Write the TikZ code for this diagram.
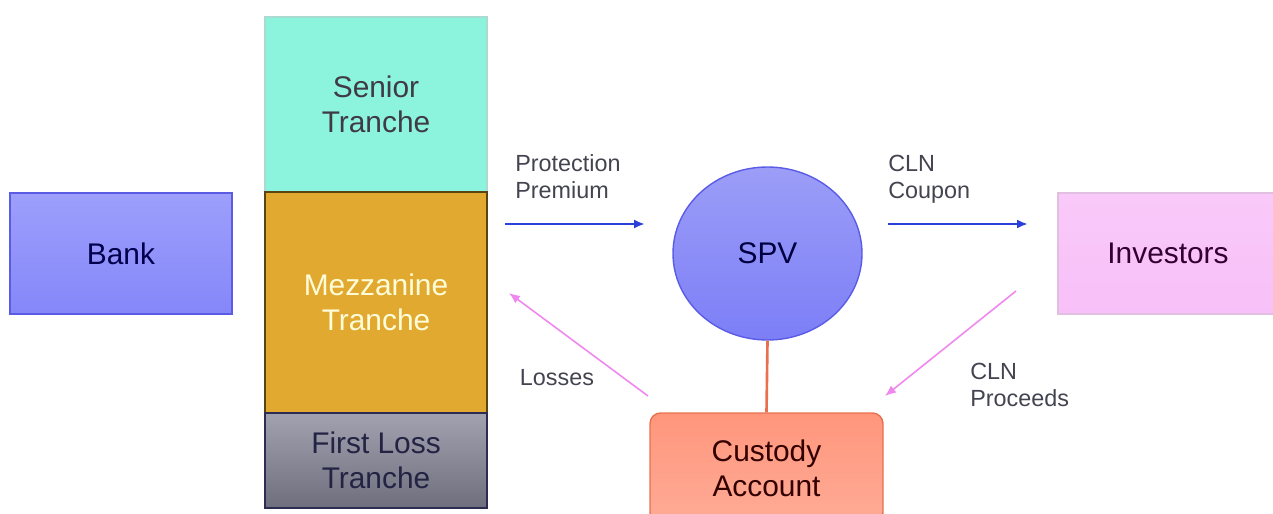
\documentclass[tikz,border=0pt]{standalone}
\usepackage{fontspec}
\setmainfont{Liberation Sans}
\usetikzlibrary{shapes.geometric,arrows.meta}

\definecolor{bankfill}{HTML}{8C8EFA}
\definecolor{bankline}{HTML}{5A5CE6}
\definecolor{seniorfill}{HTML}{8CF3DC}
\definecolor{mezzfill}{HTML}{E2A930}
\definecolor{mezzline}{HTML}{5C4312}
\definecolor{lossfill}{HTML}{8A8A9C}
\definecolor{lossline}{HTML}{2C2C55}
\definecolor{spvfill}{HTML}{8A8CF6}
\definecolor{custfill}{HTML}{FF967C}
\definecolor{custline}{HTML}{E8704E}
\definecolor{invfill}{HTML}{F8C0F8}
\definecolor{flowblue}{HTML}{2A40D8}
\definecolor{flowpink}{HTML}{EE88EE}
\definecolor{labelgray}{HTML}{444450}

\begin{document}
\begin{tikzpicture}[
    party/.style={draw, line width=0.8pt, font=\fontsize{17}{20}\selectfont, align=center, inner sep=0pt},
    tranche/.style={party, minimum width=4.44cm},
    flow/.style={-{Latex[length=2.2mm,width=1.8mm]}, line width=1.4pt, flowblue},
    back/.style={-{Latex[length=2.2mm,width=1.8mm]}, line width=0.9pt, flowpink},
    flowlabel/.style={font=\fontsize{13.3}{15.4}\selectfont, text=labelgray, align=left, inner sep=0pt}
]
\useasboundingbox (0,0) rectangle (25.46,-10.28);

\node[party, minimum width=4.44cm, minimum height=2.42cm, top color=bankfill!85!white, bottom color=bankfill!95!blue, draw=bankline, text=blue!30!black] (bank) at (2.42,-5.07) {Bank};
\node[tranche, minimum height=3.5cm, fill=seniorfill, draw=seniorfill!80!black!60, text=cyan!15!blue!20!black] (senior) at (7.52,-2.09) {Senior\\Tranche};
\node[tranche, minimum height=4.42cm, fill=mezzfill, draw=mezzline, text=yellow!15!white] (mezz) at (7.52,-6.05) {Mezzanine\\Tranche};
\node[tranche, minimum height=1.9cm, top color=lossfill!80!white, bottom color=lossfill!80!black, draw=lossline, text=lossline!80!black] (loss) at (7.52,-9.21) {First Loss\\Tranche};
\node[party, ellipse, minimum width=3.78cm, minimum height=3.46cm, top color=spvfill!85!white, bottom color=spvfill!90!blue, draw=bankline, text=blue!25!black] (spv) at (15.35,-5.07) {SPV};
\node[party, rounded corners=6pt, minimum width=4.66cm, minimum height=2.2cm, top color=custfill, bottom color=custfill!80!white, draw=custline, text=red!20!black] (cust) at (15.33,-9.36) {Custody\\Account};
\node[party, minimum width=4.4cm, minimum height=2.42cm, top color=invfill!85!white, bottom color=invfill, draw=invfill!85!black!70, text=violet!40!black] (inv) at (23.36,-5.07) {Investors};

\coordinate (pp1) at (10.10,-4.48);
\coordinate (pp2) at (12.90,-4.48);
\coordinate (cc1) at (17.76,-4.48);
\coordinate (cc2) at (20.56,-4.48);
\coordinate (ls1) at (12.96,-7.92);
\coordinate (ls2) at (10.18,-5.86);
\coordinate (cp1) at (20.32,-5.82);
\coordinate (cp2) at (17.70,-7.92);

\draw[flow] (pp1) -- (pp2);
\draw[flow] (cc1) -- (cc2);
\draw[back] (ls1) -- (ls2);
\draw[back] (cp1) -- (cp2);
\draw[line width=1.5pt, custline] (spv.south) -- (cust.north);

\node[flowlabel, anchor=west] (pplabel) at (10.30,-3.53) {Protection\\Premium};
\node[flowlabel, anchor=west] (cclabel) at (17.76,-3.59) {CLN\\Coupon};
\node[flowlabel] (lslabel) at (11.14,-7.56) {Losses};
\node[flowlabel, anchor=west] (cplabel) at (19.40,-7.70) {CLN\\Proceeds};
\end{tikzpicture}
\end{document}
